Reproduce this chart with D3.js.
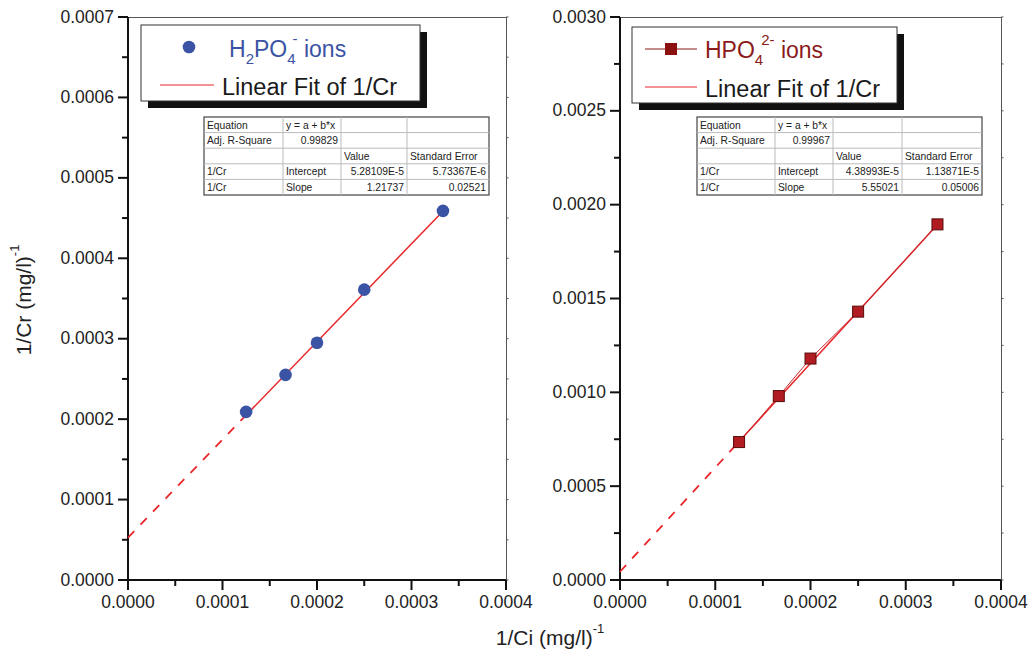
<!DOCTYPE html>
<html>
<head>
<meta charset="utf-8">
<script src="https://cdn.jsdelivr.net/npm/d3@7"></script>
<style>
  body { margin: 0; background: #fff; }
  svg text { font-family: "Liberation Sans", Arial, sans-serif; }
</style>
</head>
<body>
<svg width="1032" height="655"></svg>
<script>
// data (1/Ci and 1/Cr)
var invCi = [0.000125, 0.0001667, 0.0002, 0.00025, 0.0003333];
var h2po4 = [0.000209, 0.000255, 0.000295, 0.000361, 0.000459];
var hpo4 = [0.000735, 0.000980, 0.001180, 0.001430, 0.001895];

// fit results from the tables
var fitLeft = {a: 5.28109e-5, b: 1.21737};
var fitRight = {a: 4.38993e-5, b: 5.55021};

var xTicks = [0, 0.0001, 0.0002, 0.0003, 0.0004];
var yTicksLeft = [0, 0.0001, 0.0002, 0.0003, 0.0004, 0.0005, 0.0006, 0.0007];
var yTicksRight = [0, 0.0005, 0.0010, 0.0015, 0.0020, 0.0025, 0.0030];

var tableLeft = [
  ["Equation", "y = a + b*x", "", ""],
  ["Adj. R-Square", "0.99829", "", ""],
  ["", "", "Value", "Standard Error"],
  ["1/Cr", "Intercept", "5.28109E-5", "5.73367E-6"],
  ["1/Cr", "Slope", "1.21737", "0.02521"]
];
var tableRight = [
  ["Equation", "y = a + b*x", "", ""],
  ["Adj. R-Square", "0.99967", "", ""],
  ["", "", "Value", "Standard Error"],
  ["1/Cr", "Intercept", "4.38993E-5", "1.13871E-5"],
  ["1/Cr", "Slope", "5.55021", "0.05006"]
];

var svg = d3.select("svg");

function panel(o) {
  var x = d3.scaleLinear().domain([0, 0.0004]).range([o.x0, o.x1]);
  var y = d3.scaleLinear().domain([0, o.ymax]).range([580, 17]);
  var g = svg.append("g");

  // frame top/right
  g.append("path")
    .attr("d", "M" + o.x0 + ",17.5H" + (o.x1 + 0.5) + "V580")
    .attr("fill", "none").attr("stroke", "#555").attr("stroke-width", 1);

  // little ticks on the right edge
  var minorY = d3.range(0, o.ymax * 1.0001, o.yStep / 2);
  g.selectAll(".rt").data(minorY).enter().append("line")
    .attr("x1", o.x1).attr("x2", o.x1 + 2.5)
    .attr("y1", function(d) { return y(d); }).attr("y2", function(d) { return y(d); })
    .attr("stroke", "#555");

  // axes
  g.append("g").attr("transform", "translate(0,580)")
    .call(d3.axisBottom(x).offset(0).tickValues(xTicks).tickFormat(d3.format(".4f")).tickSize(10).tickSizeOuter(0).tickPadding(6));
  g.append("g").attr("transform", "translate(0,580)")
    .call(d3.axisBottom(x).offset(0).tickValues(d3.range(0.00005, 0.0004, 0.0001)).tickFormat("").tickSize(6).tickSizeOuter(0));
  g.append("g").attr("transform", "translate(" + o.x0 + ",0)")
    .call(d3.axisLeft(y).offset(0).tickValues(o.yTicks).tickFormat(d3.format(".4f")).tickSize(10).tickSizeOuter(0).tickPadding(4));
  g.append("g").attr("transform", "translate(" + o.x0 + ",0)")
    .call(d3.axisLeft(y).offset(0).tickValues(o.yTicks.slice(1).map(function(d) { return d - o.yStep / 2; })).tickFormat("").tickSize(6).tickSizeOuter(0));
  g.selectAll(".domain").attr("stroke", "#111").attr("stroke-width", 2);
  g.selectAll(".tick line").attr("stroke", "#111").attr("stroke-width", 2);
  g.selectAll(".tick text").attr("font-size", 17.5).attr("fill", "#222");

  // fit line: dashed extrapolation, solid through data
  var xmin = d3.min(invCi), xmax = d3.max(invCi);
  g.append("line")
    .attr("x1", x(0)).attr("y1", y(o.fit.a))
    .attr("x2", x(xmin)).attr("y2", y(o.fit.a + o.fit.b * xmin))
    .attr("stroke", "#e8262a").attr("stroke-width", 1.8).attr("stroke-dasharray", "9,9");
  g.append("line")
    .attr("x1", x(xmin)).attr("y1", y(o.fit.a + o.fit.b * xmin))
    .attr("x2", x(xmax)).attr("y2", y(o.fit.a + o.fit.b * xmax))
    .attr("stroke", "#e8262a").attr("stroke-width", 1.5);

  // points
  var pts = invCi.map(function(d, i) { return [d, o.vals[i]]; });
  if (o.marker === "circle") {
    g.selectAll(".pt").data(pts).enter().append("circle")
      .attr("cx", function(d) { return x(d[0]); })
      .attr("cy", function(d) { return y(d[1]); })
      .attr("r", 6.3).attr("fill", "#3a53a4");
  } else {
    g.append("path")
      .attr("d", d3.line().x(function(d) { return x(d[0]); }).y(function(d) { return y(d[1]); })(pts))
      .attr("fill", "none").attr("stroke", "#c4262c").attr("stroke-width", 1);
    g.selectAll(".pt").data(pts).enter().append("rect")
      .attr("x", function(d) { return x(d[0]) - 5.5; })
      .attr("y", function(d) { return y(d[1]) - 5.5; })
      .attr("width", 11).attr("height", 11)
      .attr("fill", "#b01c22").attr("stroke", "#5a0a0a").attr("stroke-width", 1);
  }

  // legend
  var L = o.legend;
  g.append("rect").attr("x", L.x + 7).attr("y", L.y + 7).attr("width", L.w).attr("height", L.h).attr("fill", "#111");
  g.append("rect").attr("x", L.x).attr("y", L.y).attr("width", L.w).attr("height", L.h)
    .attr("fill", "#fff").attr("stroke", "#333").attr("stroke-width", 1);
  if (o.marker === "circle") {
    g.append("circle").attr("cx", L.sx + 29).attr("cy", L.r1 - 10).attr("r", 6.3).attr("fill", "#3a53a4");
  } else {
    g.append("line").attr("x1", L.sx).attr("x2", L.sx + 52).attr("y1", L.r1 - 9).attr("y2", L.r1 - 9)
      .attr("stroke", "#8b1a1a").attr("stroke-width", 1.2);
    g.append("rect").attr("x", L.sx + 20).attr("y", L.r1 - 15).attr("width", 12).attr("height", 12).attr("fill", "#8b1010");
  }
  var t = g.append("text").attr("x", L.tx).attr("y", L.r1).attr("font-size", 23).attr("fill", o.labelColor);
  o.label.forEach(function(p) {
    t.append("tspan").attr("font-size", p.fs || 23).attr("dx", p.dx || 0).attr("dy", p.dy || 0).text(p.t);
  });
  g.append("line").attr("x1", L.lx1).attr("x2", L.lx2).attr("y1", L.r2 - 10).attr("y2", L.r2 - 10)
    .attr("stroke", "#e8262a").attr("stroke-width", 1.2);
  g.append("text").attr("x", L.tx2).attr("y", L.r2).attr("font-size", 23.5).attr("fill", "#1a1a1a")
    .text("Linear Fit of 1/Cr");

  // fit table
  var T = o.table;
  var cols = T.cols;
  var rowH = 15.6;
  var tb = g.append("g");
  tb.append("rect").attr("x", cols[0]).attr("y", T.y).attr("width", cols[4] - cols[0]).attr("height", rowH * 5)
    .attr("fill", "#fff").attr("stroke", "#444").attr("stroke-width", 1.2);
  d3.range(1, 5).forEach(function(r) {
    tb.append("line").attr("x1", cols[0]).attr("x2", cols[4]).attr("y1", T.y + r * rowH).attr("y2", T.y + r * rowH)
      .attr("stroke", "#bbb").attr("stroke-width", 1);
  });
  [1, 2, 3].forEach(function(c) {
    tb.append("line").attr("x1", cols[c]).attr("x2", cols[c]).attr("y1", T.y).attr("y2", T.y + rowH * 5)
      .attr("stroke", "#bbb").attr("stroke-width", 1);
  });
  o.rows.forEach(function(row, r) {
    row.forEach(function(cell, c) {
      if (!cell) return;
      var rightAlign = (c >= 2 && r !== 2) || (c === 1 && r === 1);
      tb.append("text")
        .attr("x", rightAlign ? cols[c + 1] - 3 : cols[c] + 3)
        .attr("y", T.y + r * rowH + 11.5)
        .attr("text-anchor", rightAlign ? "end" : "start")
        .attr("font-size", 10.3).attr("fill", "#222")
        .text(cell);
    });
  });
}

panel({
  x0: 128, x1: 506, ymax: 0.0007, yStep: 0.0001, yTicks: yTicksLeft,
  vals: h2po4, fit: fitLeft, marker: "circle",
  labelColor: "#3a53a4",
  label: [{t: "H"}, {t: "2", fs: 15, dy: 7}, {t: "PO", dy: -7}, {t: "4", fs: 15, dy: 7},
          {t: "-", fs: 15, dx: -3, dy: -20}, {t: " ions", dy: 13}],
  legend: {x: 141, y: 25, w: 279, h: 76, sx: 160, tx: 229, r1: 57, lx1: 160, lx2: 214, tx2: 222, r2: 95},
  table: {y: 117, cols: [204, 283, 341, 407, 489]}, rows: tableLeft
});
panel({
  x0: 620, x1: 1001, ymax: 0.0030, yStep: 0.0005, yTicks: yTicksRight,
  vals: hpo4, fit: fitRight, marker: "square",
  labelColor: "#8b1a1a",
  label: [{t: "HPO"}, {t: "4", fs: 15, dy: 7}, {t: "2-", fs: 15, dx: -2, dy: -20}, {t: " ions", dy: 13}],
  legend: {x: 632, y: 27, w: 265, h: 76, sx: 645, tx: 705, r1: 58, lx1: 645, lx2: 697, tx2: 705, r2: 97},
  table: {y: 117, cols: [697, 775, 833, 902, 982]}, rows: tableRight
});

// axis titles
var xt = svg.append("text").attr("x", 550).attr("y", 645).attr("text-anchor", "middle")
  .attr("font-size", 21).attr("fill", "#222");
xt.append("tspan").text("1/Ci (mg/l)");
xt.append("tspan").attr("font-size", 13).attr("dy", -12).text("-1");

var yt = svg.append("text").attr("transform", "translate(31,300) rotate(-90)").attr("text-anchor", "middle")
  .attr("font-size", 21).attr("fill", "#222");
yt.append("tspan").text("1/Cr (mg/l)");
yt.append("tspan").attr("font-size", 13).attr("dy", -12).text("-1");
</script>
</body>
</html>
